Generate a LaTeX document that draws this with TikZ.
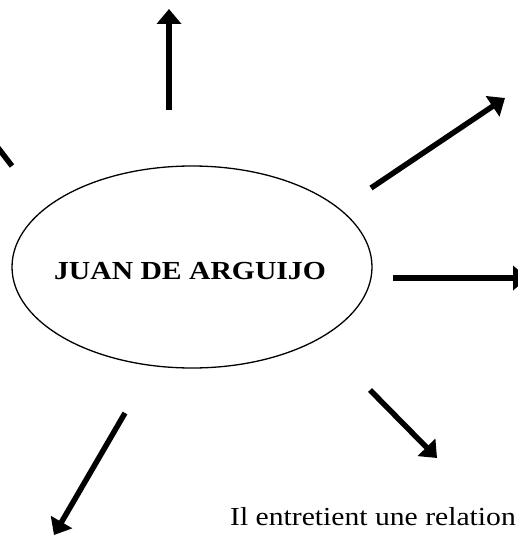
\documentclass[tikz,border=0pt]{standalone}
\usepackage{fontspec}
\setmainfont[FakeStretch=1.14]{Liberation Serif}
\usepackage{tikz}
\usetikzlibrary{shapes.geometric,arrows.meta}

\tikzset{
    branch/.style={line width=5.5pt, -{Triangle[length=15pt,width=24pt]}},
    bigtext/.style={font=\fontsize{26}{30}\selectfont}
}

\begin{document}
\begin{tikzpicture}[x=1pt,y=-1pt]
    \useasboundingbox (0,0) rectangle (517,535);

    % Central ellipse
    \node[draw, ellipse, line width=1.3pt, minimum width=360pt, minimum height=202pt] (arguijo) at (192,267) {};
    \node[bigtext, anchor=base] (name) at (190,279) {\textbf{JUAN DE ARGUIJO}};

    % Arrow up
    \coordinate (upS) at (169,110);
    \coordinate (upE) at (169,9);
    \draw[branch] (upS) -- (upE);

    % Arrow up left (cut by the edge)
    \coordinate (ulS) at (12,166);
    \coordinate (ulE) at (-8,140);
    \draw[line width=5.5pt] (ulS) -- (ulE);

    % Arrow up right
    \coordinate (urS) at (371,188);
    \coordinate (urE) at (505,98);
    \draw[branch] (urS) -- (urE);

    % Arrow right
    \coordinate (rS) at (393,278);
    \coordinate (rE) at (528,278);
    \draw[branch] (rS) -- (rE);

    % Arrow down right
    \coordinate (drS) at (370,390);
    \coordinate (drE) at (437,458);
    \draw[branch] (drS) -- (drE);

    % Arrow down left
    \coordinate (dlS) at (125,413);
    \coordinate (dlE) at (54,535);
    \draw[branch] (dlS) -- (dlE);

    % Text at the bottom
    \node[bigtext, anchor=base west, inner sep=0pt] (relation) at (230,525) {Il entretient une relation};
\end{tikzpicture}
\end{document}
